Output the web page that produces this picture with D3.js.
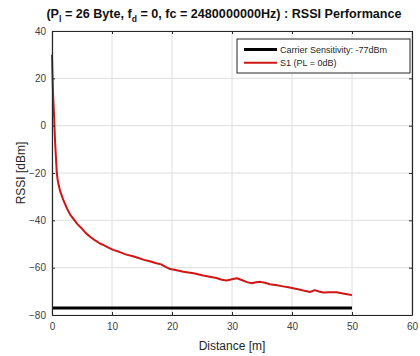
<!DOCTYPE html>
<html><head><meta charset="utf-8">
<script src="https://cdn.jsdelivr.net/npm/d3@7"></script>
<style>body{margin:0;background:#fff}svg{display:block}text{font-family:"Liberation Sans",Arial,sans-serif}</style>
</head><body><svg id="c" width="420" height="356"></svg>
<script>
const distance = [0, 0.1, 0.2, 0.35, 0.5, 0.65, 0.8, 0.95, 1.1, 1.4, 1.9, 2.5, 3.0, 3.6, 4.2, 4.8, 5.5, 6.3, 7.2, 8.0, 8.6, 9.4, 10.2, 11.2, 12.4, 13.5, 14.3, 15.2, 16.3, 17.4, 18.2, 19.0, 19.7, 20.8, 21.9, 23.6, 25.2, 26.3, 27.4, 28.3, 29.1, 30.0, 30.8, 31.6, 32.5, 33.3, 34.0, 34.7, 35.5, 36.3, 37.5, 38.5, 39.4, 40.2, 41.2, 42.3, 43.0, 43.8, 44.5, 45.2, 46.3, 47.4, 48.3, 49.2, 50];
const rssiS1 = [30, 20, 12, 4, -6, -13, -20, -23, -25, -28, -31.5, -35, -37.5, -39.5, -41.5, -43, -45, -46.8, -48.5, -49.8, -50.5, -51.5, -52.5, -53.3, -54.5, -55.2, -55.8, -56.6, -57.3, -58.1, -58.6, -59.8, -60.6, -61.1, -61.7, -62.4, -63.3, -63.8, -64.4, -65.1, -65.4, -64.9, -64.5, -65.2, -66.1, -66.6, -66.2, -66.0, -66.4, -67.0, -67.4, -67.9, -68.3, -68.7, -69.2, -69.9, -70.3, -69.5, -70.1, -70.5, -70.4, -70.4, -70.8, -71.2, -71.6];
const sensitivityX = [0, 50];
const sensitivityY = [-77, -77];
const xTicks = [0, 10, 20, 30, 40, 50, 60];
const yTicks = [-80, -60, -40, -20, 0, 20, 40];
const legendLabels = ["Carrier Sensitivity: -77dBm", "S1 (PL = 0dB)"];
const colors = ["#000000", "#d01515"];

const svg = d3.select("#c");
const L = 52, R = 412, T = 31, B = 315;
const x = d3.scaleLinear().domain([0, 60]).range([L, R]);
const y = d3.scaleLinear().domain([-80, 40]).range([B, T]);

svg.append("rect").attr("x", L).attr("y", T).attr("width", R - L).attr("height", B - T).attr("fill", "#fff");

// grid
const g = svg.append("g");
g.selectAll(".gx").data(xTicks).join("line").attr("x1", d => x(d)).attr("x2", d => x(d)).attr("y1", T).attr("y2", B).attr("stroke", "#dedede").attr("stroke-width", 1);
g.selectAll(".gy").data(yTicks).join("line").attr("y1", d => y(d)).attr("y2", d => y(d)).attr("x1", L).attr("x2", R).attr("stroke", "#dedede").attr("stroke-width", 1);

// lines
const line = d3.line().x(d => x(d[0])).y(d => y(d[1]));
svg.append("path").datum(d3.zip(sensitivityX, sensitivityY)).attr("d", line).attr("fill", "none").attr("stroke", colors[0]).attr("stroke-width", 3);
svg.append("path").datum(d3.zip(distance, rssiS1)).attr("d", line).attr("fill", "none").attr("stroke", colors[1]).attr("stroke-width", 2).attr("stroke-linejoin", "round");

// axes
const axCol = "#262626";
const xa = svg.append("g").attr("transform", `translate(0,${B})`).call(d3.axisBottom(x).tickValues(xTicks).tickSizeInner(-3).tickSizeOuter(0).tickPadding(8));
const ya = svg.append("g").attr("transform", `translate(${L},0)`).call(d3.axisLeft(y).tickValues(yTicks).tickSizeInner(-3).tickSizeOuter(0).tickPadding(6));
const xt = svg.append("g").attr("transform", `translate(0,${T})`).call(d3.axisTop(x).tickValues(xTicks).tickSizeInner(-3).tickSizeOuter(0).tickFormat(""));
const yr = svg.append("g").attr("transform", `translate(${R},0)`).call(d3.axisRight(y).tickValues(yTicks).tickSizeInner(-3).tickSizeOuter(0).tickFormat(""));
[xa, ya, xt, yr].forEach(a => {
  a.select(".domain").attr("stroke", axCol).attr("stroke-width", 1.2);
  a.selectAll(".tick line").attr("stroke", axCol);
  a.selectAll("text").attr("fill", "#404040").style("font-size", "10px").style("font-family", "'Liberation Sans',Arial,sans-serif");
});

// labels
svg.append("text").attr("x", x(30)).attr("y", 350).attr("text-anchor", "middle").attr("fill", "#262626").style("font-size", "12px").text("Distance [m]");
svg.append("text").attr("transform", `translate(25,${(T + B) / 2}) rotate(-90)`).attr("text-anchor", "middle").attr("fill", "#262626").style("font-size", "12px").text("RSSI [dBm]");

// title
const title = svg.append("text").attr("x", 224).attr("y", 18).attr("text-anchor", "middle").attr("fill", "#111").style("font-size", "12.6px").style("font-weight", "bold");
title.append("tspan").text("(P");
title.append("tspan").attr("dy", 3.5).style("font-size", "8.5px").text("l");
title.append("tspan").attr("dy", -3.5).text(" = 26 Byte, f");
title.append("tspan").attr("dy", 3.5).style("font-size", "8.5px").text("d");
title.append("tspan").attr("dy", -3.5).text(" = 0, fc = 2480000000Hz) : RSSI Performance");

// legend
const lg = svg.append("g");
lg.append("rect").attr("x", 237).attr("y", 39).attr("width", 173).attr("height", 34).attr("fill", "#fff").attr("stroke", "#262626").attr("stroke-width", 1);
legendLabels.forEach((t, i) => {
  const yy = 49.5 + i * 13.3;
  lg.append("line").attr("x1", 244).attr("x2", 277).attr("y1", yy).attr("y2", yy).attr("stroke", colors[i]).attr("stroke-width", i === 0 ? 3 : 2);
  lg.append("text").attr("x", 280).attr("y", yy + 3.3).attr("fill", "#262626").style("font-size", "9px").text(t);
});
</script></body></html>
